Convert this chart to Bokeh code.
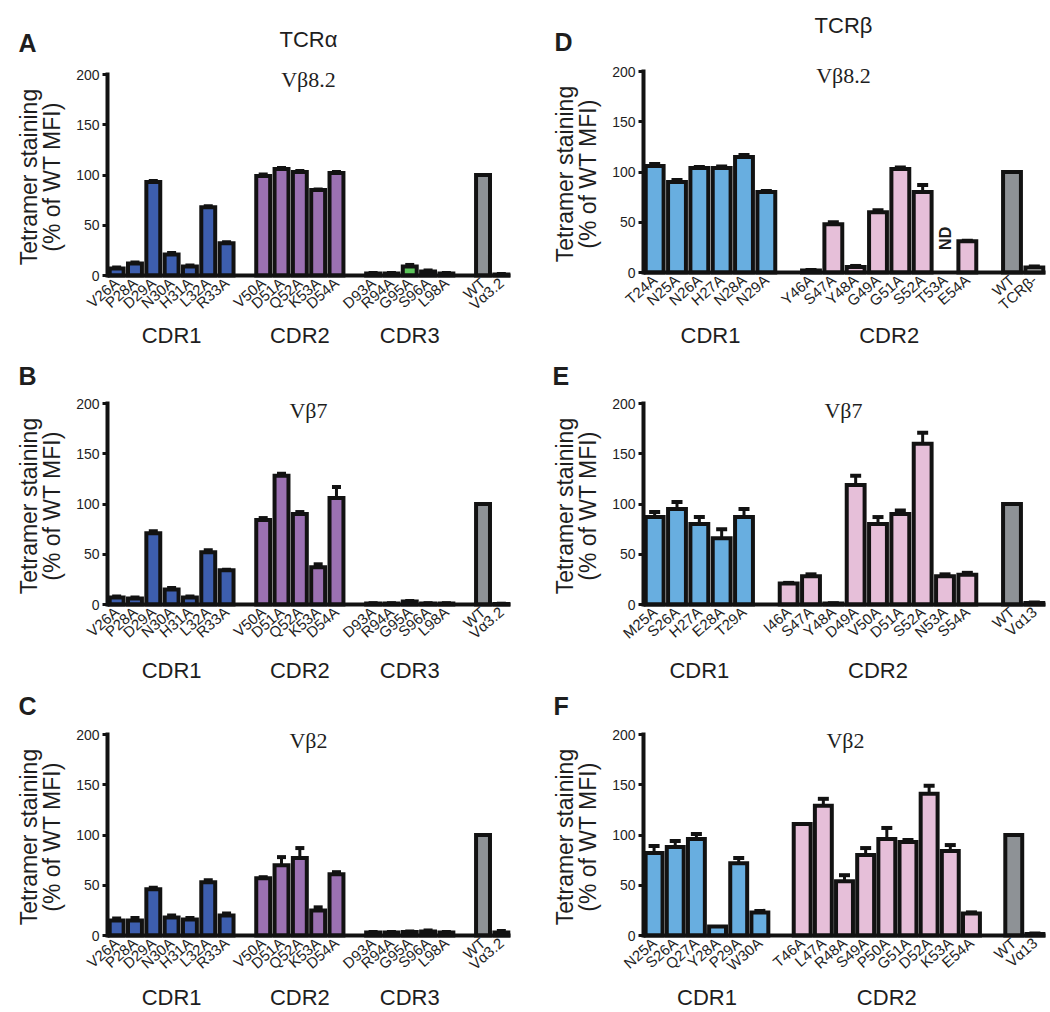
import math
from bokeh.plotting import figure
from bokeh.models import (Range1d, FixedTicker, LinearAxis, Label, ColumnDataSource,
                          Whisker, TeeHead)
from bokeh.layouts import column, row
from bokeh.embed import file_html
from bokeh.resources import INLINE

nan = float("nan")

# ---------------- data ----------------
alpha_cdr1 = ["V26A", "P28A", "D29A", "N30A", "H31A", "L32A", "R33A"]
alpha_cdr2 = ["V50A", "D51A", "Q52A", "K53A", "D54A"]
alpha_cdr3 = ["D93A", "R94A", "G95A", "S96A", "L98A"]
alpha_ctrl = ["WT", "Vα3.2"]

A_vals = [7, 12, 93, 21, 9, 68, 32, 99, 106, 103, 85, 102, 2, 2, 9, 4, 2, 100, 1]
A_err = [1, 1, 1, 1.5, 1, 1, 1, 1.5, 1, 1, 0.5, 1, 0.5, 0.5, 1.5, 1, 0.5, 0, 0.5]

B_vals = [7, 6, 71, 15, 7, 52, 34, 84, 128, 90, 37, 106, 1, 1, 3, 1, 1, 100, 0.5]
B_err = [1, 1, 2, 1.5, 1, 2, 0.5, 2, 2, 2, 3, 11, 0.3, 0.3, 0.5, 0.3, 0.3, 0, 0.3]

C_vals = [15, 15, 46, 18, 16, 53, 20, 57, 70, 77, 25, 61, 3, 3, 3.5, 4, 3, 100, 3]
C_err = [2, 2.5, 1.5, 2, 1.5, 2, 2, 1, 8, 10, 3, 2, 0.5, 0.5, 0.5, 1, 0.5, 0, 1.5]

D_cdr1 = ["T24A", "N25A", "N26A", "H27A", "N28A", "N29A"]
D_cdr2 = ["Y46A", "S47A", "Y48A", "G49A", "G51A", "S52A", "T53A", "E54A"]
D_ctrl = ["WT", "TCRβ-"]
D_vals = [106, 90, 104, 104, 115, 80, 2, 48, 5.5, 60, 103, 80, nan, 31, 100, 5]
D_err = [2, 2, 1, 1.5, 2, 1, 0.5, 2, 1, 2, 1.5, 7, nan, 0.5, 0, 1]

E_cdr1 = ["M25A", "S26A", "H27A", "E28A", "T29A"]
E_cdr2 = ["I46A", "S47A", "Y48A", "D49A", "V50A", "D51A", "S52A", "N53A", "S54A"]
E_ctrl = ["WT", "Vα13"]
E_vals = [87, 95, 80, 66, 87, 21, 28, 1, 119, 80, 90, 160, 28, 29.5, 100, 1.5]
E_err = [5, 7, 7, 9, 8, 0.5, 2, 0.3, 9, 7, 3.5, 11, 2, 2, 0, 0.5]

F_cdr1 = ["N25A", "S26A", "Q27A", "Y28A", "P29A", "W30A"]
F_cdr2 = ["T46A", "L47A", "R48A", "S49A", "P50A", "G51A", "D52A", "K53A", "E54A"]
F_ctrl = ["WT", "Vα13"]
F_vals = [82, 88, 96, 9, 72, 23, 111, 129, 54, 80, 96, 93, 141, 84, 22, 100, 1.5]
F_err = [7, 6, 5, 0, 5, 1.5, 0, 7, 6, 7, 11, 2, 8, 6, 1, 0, 0.5]

y_ticks = [0, 50, 100, 150, 200]

# ---------------- style ----------------
SANS = "Liberation Sans"
SERIF = "Liberation Serif"
INK = "#121212"
TXT = "#1e1e1e"
BLUE_A = "#3d5eae"
PURPLE_A = "#9b71b2"
GREEN_A = "#5cc65a"
GRAY = "#8e9296"
BLUE_B = "#68aee0"
PINK_B = "#e6bfd9"


def panel(geo, letter, head, sub, groups, ctrl, ctrl_colors, vals, errs, texts, cap, bw):
    fig_x, fig_y, W, H, fx0, fx1, y0px, y200px = geo
    labels, xs, cols, centers = [], [], [], []
    pos = 0
    for name, labs, col in groups:
        start = pos
        for lab in labs:
            labels.append(lab)
            xs.append(pos)
            cols.append(col)
            pos += 1
        centers.append(((start + pos - 1) / 2, name))
        pos += 1
    for lab, col in zip(ctrl, ctrl_colors):
        labels.append(lab)
        xs.append(pos)
        cols.append(col)
        pos += 1
    x_end = pos - 0.5

    sx = (fx1 - fx0) / (x_end + 0.5)
    sy = (y0px - y200px) / 200.0

    def dx(px):
        return -0.5 + (px - fx0) / sx

    def dy(py):
        return (y0px - py) / sy

    p = figure(width=W, height=H, output_backend="svg", toolbar_location=None,
               x_range=Range1d(dx(fig_x), dx(fig_x + W)),
               y_range=Range1d(dy(fig_y + H), dy(fig_y)),
               x_axis_location=None, y_axis_location=None,
               min_border_left=0, min_border_right=0,
               min_border_top=0, min_border_bottom=0)
    p.outline_line_color = None
    p.grid.visible = False
    p.background_fill_color = "white"
    p.border_fill_color = "white"

    bx, bt, bc = [], [], []
    ex, elo, ehi = [], [], []
    nd_x = []
    for x, v, e, c in zip(xs, vals, errs, cols):
        if math.isnan(v):
            nd_x.append(x)
            continue
        bx.append(x)
        bt.append(v)
        bc.append(c)
        if e > 0:
            ex.append(x)
            elo.append(v)
            ehi.append(v + e)

    src = ColumnDataSource(dict(x=bx, top=bt, color=bc))
    p.vbar(x="x", top="top", bottom=0, width=bw, source=src,
           fill_color="color", line_color=INK, line_width=4, line_join="miter")
    esrc = ColumnDataSource(dict(x=ex, lo=elo, hi=ehi))
    p.add_layout(Whisker(source=esrc, base="x", lower="lo", upper="hi",
                         line_color=INK, line_width=3,
                         upper_head=TeeHead(size=cap, line_color=INK, line_width=4),
                         lower_head=None))

    ya = LinearAxis(fixed_location=-0.5, bounds=(0, 200), ticker=FixedTicker(ticks=y_ticks),
                    axis_line_color=INK, axis_line_width=4, axis_line_cap="square",
                    major_tick_line_color=INK, major_tick_line_width=3,
                    major_tick_out=5, major_tick_in=0, minor_tick_line_color=None,
                    major_label_text_font=SANS, major_label_text_font_size="14px",
                    major_label_text_color=TXT, major_label_standoff=3)
    p.add_layout(ya, "left")

    xa = LinearAxis(fixed_location=0, bounds=(-0.5, x_end), ticker=FixedTicker(ticks=xs),
                    major_label_overrides={x: lab for x, lab in zip(xs, labels)},
                    axis_line_color=INK, axis_line_width=4,
                    major_tick_line_color=None, minor_tick_line_color=None,
                    major_tick_out=0, major_tick_in=0,
                    major_label_orientation=0.72, major_label_text_font=SANS,
                    major_label_text_font_size="15px", major_label_text_color=TXT,
                    major_label_standoff=5)
    p.add_layout(xa, "below")

    (lx, ly), head_pos, sub_pos, cdr_py = texts

    def lab(x, y, text, size, font=SANS, style="normal", align="center", angle=0.0):
        p.add_layout(Label(x=x, y=y, text=text, text_font=font, text_font_size=size,
                           text_font_style=style, text_color=TXT, text_align=align,
                           text_baseline="middle", angle=angle))

    lab(dx(lx), dy(ly), letter, "25px", style="bold", align="left")
    if head:
        lab(dx(head_pos[0]), dy(head_pos[1]), head, "22px")
    lab(dx(sub_pos[0]), dy(sub_pos[1]), sub, "22px", font=SERIF)
    for cx, name in centers:
        lab(cx, dy(cdr_py), name, "22px")
    lab(dx(fx0 - 79), 98, "Tetramer staining", "23px", angle=math.pi / 2)
    lab(dx(fx0 - 56), 98, "(% of WT MFI)", "23px", angle=math.pi / 2)
    for x in nd_x:
        lab(x, 34, "ND", "16px", style="bold", angle=math.pi / 2)
    return p


alpha_groups = [("CDR1", alpha_cdr1, BLUE_A), ("CDR2", alpha_cdr2, PURPLE_A),
                ("CDR3", alpha_cdr3, GREEN_A)]

# geometry: fig_x, fig_y, width, height, px of x=-0.5, px of x=end, px of y=0, px of y=200
gA = (0, 0, 525, 355, 107, 510, 275, 74)
gB = (0, 355, 525, 330, 107, 510, 604, 403)
gC = (0, 685, 525, 325, 107, 510, 935, 734)
gD = (525, 0, 523, 355, 643, 1045, 272, 71)
gE = (525, 355, 523, 330, 643, 1045, 604, 403)
gF = (525, 685, 523, 325, 643, 1045, 935, 734)

pA = panel(gA, "A", "TCRα", "Vβ8.2", alpha_groups, alpha_ctrl, [GRAY, GRAY], A_vals, A_err,
           ((18, 42.5), (308, 39), (308, 79), 335), 9, 0.76)
pB = panel(gB, "B", None, "Vβ7", alpha_groups, alpha_ctrl, [GRAY, GRAY], B_vals, B_err,
           ((18, 375), None, (308, 410), 670), 9, 0.76)
pC = panel(gC, "C", None, "Vβ2", alpha_groups, alpha_ctrl, [GRAY, GRAY], C_vals, C_err,
           ((18, 705), None, (308, 740), 997), 9, 0.76)
pD = panel(gD, "D", "TCRβ", "Vβ8.2", [("CDR1", D_cdr1, BLUE_B), ("CDR2", D_cdr2, PINK_B)],
           D_ctrl, [GRAY, "white"], D_vals, D_err,
           ((554, 41.5), (843, 25), (843, 75), 335), 11, 0.8)
pE = panel(gE, "E", None, "Vβ7", [("CDR1", E_cdr1, BLUE_B), ("CDR2", E_cdr2, PINK_B)],
           E_ctrl, [GRAY, GRAY], E_vals, E_err,
           ((552, 375.5), None, (843, 410), 670), 11, 0.8)
pF = panel(gF, "F", None, "Vβ2", [("CDR1", F_cdr1, BLUE_B), ("CDR2", F_cdr2, PINK_B)],
           F_ctrl, [GRAY, GRAY], F_vals, F_err,
           ((553, 705.5), None, (845, 740), 997), 11, 0.8)

layout = column(row(pA, pD), row(pB, pE), row(pC, pF))

with open("out.html", "w") as f:
    f.write(file_html(layout, INLINE))
